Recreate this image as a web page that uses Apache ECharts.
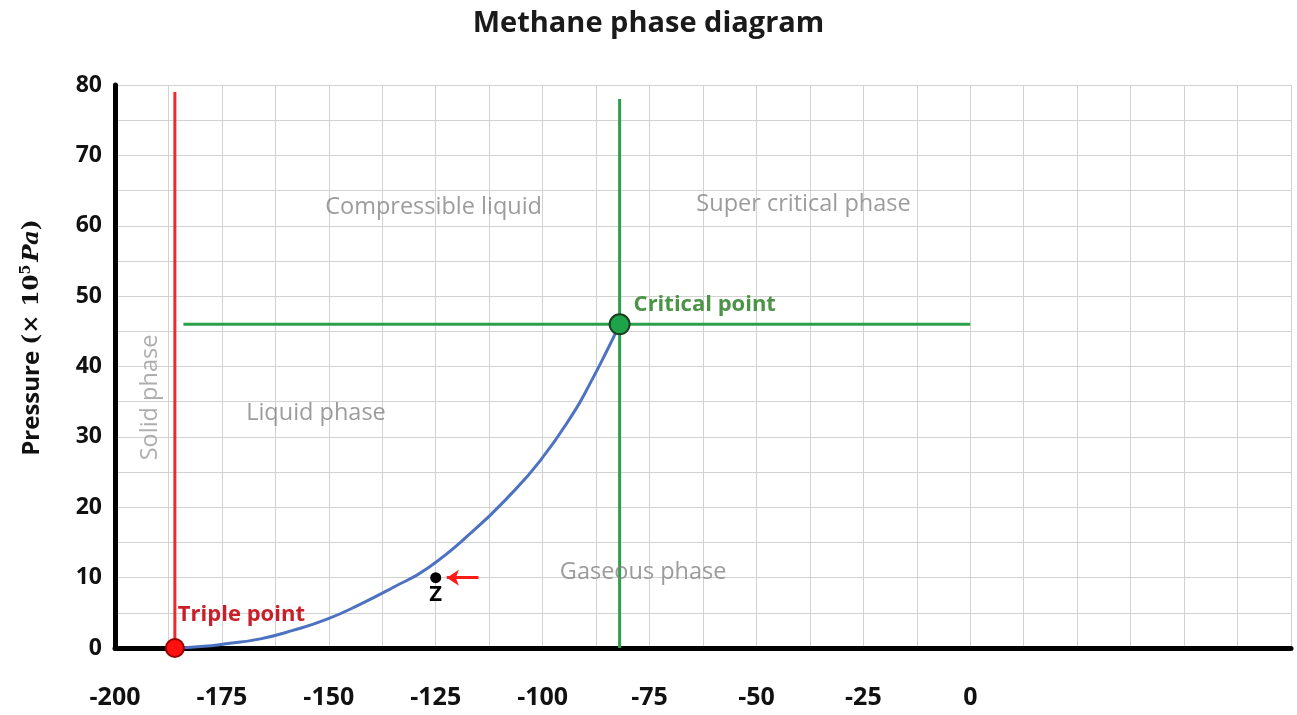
<!DOCTYPE html>
<html>
<head>
<meta charset="utf-8">
<script src="https://cdn.jsdelivr.net/npm/echarts@6/dist/echarts.min.js"></script>
<style>
  html, body { margin: 0; padding: 0; background: #fff; }
  #main { width: 1297px; height: 715px; }
</style>
</head>
<body>
<div id="main"></div>
<script>
// temperature (°C) / pressure (x10^5 Pa)
var curveT = [-186, -180, -174, -166, -158.4, -150.4, -142.7, -135, -127, -116.3, -108.3, -100.6, -92.9, -88.9, -85, -82];
var curveP = [0, 0.2, 0.6, 1.3, 2.5, 4.1, 6.2, 8.6, 11.3, 16.6, 21.3, 26.6, 33.3, 37.6, 42.2, 46];

var triplePoint = [-186, 0];
var criticalPoint = [-82, 46];
var pointZ = [-125, 10];

var solidLineTop = 79;      // red line up to
var criticalLineTop = 78;   // green vertical up to
var criticalLineX = [-184, 0]; // green horizontal from / to

var arrowFrom = [-115, 10];
var arrowTo = [-122.4, 10];

var phaseNames = ['Compressible liquid', 'Super critical phase', 'Liquid phase', 'Gaseous phase'];
var phaseX = [-125.5, -39, -153, -76.5];
var phaseY = [62.6, 63, 33.3, 10.8];

var xTickLabels = [-200, -175, -150, -125, -100, -75, -50, -25, 0];
var yTickLabels = [0, 10, 20, 30, 40, 50, 60, 70, 80];

var myChart = echarts.init(document.getElementById('main'));

var font = '"Open Sans", "DejaVu Sans", sans-serif';

var option = {
    backgroundColor: '#fff',
    animation: false,
    title: {
        text: 'Methane phase diagram',
        left: 'center',
        top: 4,
        textStyle: { fontFamily: font, fontSize: 29, fontWeight: 'bold', color: '#1a1a1a' }
    },
    grid: { left: 115, top: 85, right: 6, bottom: 67 },
    xAxis: {
        type: 'value',
        min: -200,
        max: 75,
        interval: 12.5,
        axisLine: { show: true, onZero: false, lineStyle: { color: '#000', width: 5 } },
        axisTick: { show: false },
        splitLine: { show: true, lineStyle: { color: '#d2d2d2', width: 1 } },
        axisLabel: {
            margin: 37,
            hideOverlap: false,
            fontFamily: font, fontSize: 25, fontWeight: 'bold', color: '#111',
            formatter: function (v) {
                return xTickLabels.indexOf(v) >= 0 ? String(v) : '';
            }
        }
    },
    yAxis: {
        type: 'value',
        min: 0,
        max: 80,
        interval: 5,
        name: '{a|Pressure }{b|(× 10}{s|5}{i|Pa}{b|)}',
        nameLocation: 'middle',
        nameGap: 70,
        nameRotate: 90,
        nameTextStyle: {
            padding: [0, 0, 0, 58],
            rich: {
                a: { fontFamily: font, fontSize: 24, fontWeight: 'bold', color: '#111' },
                b: { fontFamily: '"DejaVu Serif", serif', fontSize: 23, fontWeight: 'bold', color: '#111' },
                s: { fontFamily: '"DejaVu Serif", serif', fontSize: 14, fontWeight: 'bold', color: '#111', padding: [0, 3, 12, 0] },
                i: { fontFamily: '"DejaVu Serif", serif', fontSize: 23, fontWeight: 'bold', fontStyle: 'italic', color: '#111' }
            }
        },
        axisLine: { show: true, onZero: false, lineStyle: { color: '#000', width: 5 } },
        axisTick: { show: false },
        splitLine: { show: true, lineStyle: { color: '#d2d2d2', width: 1 } },
        axisLabel: {
            margin: 13,
            fontFamily: font, fontSize: 23, fontWeight: 'bold', color: '#111',
            formatter: function (v) {
                return yTickLabels.indexOf(v) >= 0 ? String(v) : '';
            }
        }
    },
    series: [
        {
            name: 'solid line',
            type: 'line',
            symbol: 'none',
            data: [[triplePoint[0], 0], [triplePoint[0], solidLineTop]],
            lineStyle: { color: '#ee2b2b', width: 3 },
            z: 3
        },
        {
            name: 'critical vertical',
            type: 'line',
            symbol: 'none',
            data: [[criticalPoint[0], 0], [criticalPoint[0], criticalLineTop]],
            lineStyle: { color: '#2aa04a', width: 3 },
            z: 3
        },
        {
            name: 'critical horizontal',
            type: 'line',
            symbol: 'none',
            data: [[criticalLineX[0], criticalPoint[1]], [criticalLineX[1], criticalPoint[1]]],
            lineStyle: { color: '#2aa04a', width: 3 },
            z: 3
        },
        {
            name: 'vaporization curve',
            type: 'line',
            symbol: 'none',
            smooth: 0.5,
            data: curveT.map(function (t, i) { return [t, curveP[i]]; }),
            lineStyle: { color: '#4e72c2', width: 3 },
            z: 4
        },
        {
            name: 'arrow',
            type: 'line',
            symbol: 'none',
            data: [],
            markLine: {
                silent: true,
                symbol: ['none', 'arrow'],
                symbolSize: [12, 12],
                label: { show: false },
                lineStyle: { color: '#ff1a1a', width: 3, type: 'solid' },
                data: [[{ coord: arrowFrom }, { coord: arrowTo }]]
            },
            z: 5
        },
        {
            name: 'points',
            type: 'scatter',
            clip: false,
            z: 6,
            data: [
                {
                    value: triplePoint, symbolSize: 18,
                    itemStyle: { color: '#ff1010', borderColor: '#9a0000', borderWidth: 2, opacity: 1 },
                    label: {
                        show: true, formatter: 'Triple point', position: 'right',
                        offset: [-12, -33],
                        fontFamily: font, fontSize: 22, fontWeight: 'bold', color: '#c8202a'
                    }
                },
                {
                    value: criticalPoint, symbolSize: 20,
                    itemStyle: { color: '#1ea34a', borderColor: '#1b3f22', borderWidth: 2, opacity: 1 },
                    label: {
                        show: true, formatter: 'Critical point', position: 'right',
                        offset: [-2, -20],
                        fontFamily: font, fontSize: 22, fontWeight: 'bold', color: '#4b9447'
                    }
                },
                {
                    value: pointZ, symbolSize: 11,
                    itemStyle: { color: '#000', opacity: 1 },
                    label: {
                        show: true, formatter: 'Z', position: 'bottom', distance: 1,
                        fontFamily: font, fontSize: 22, fontWeight: 'bold', color: '#000'
                    }
                }
            ]
        },
        {
            name: 'phase labels',
            type: 'scatter',
            symbolSize: 0,
            clip: false,
            z: 5,
            data: phaseNames.map(function (n, i) { return { name: n, value: [phaseX[i], phaseY[i]] }; }),
            label: {
                show: true, position: 'inside', formatter: '{b}',
                fontFamily: font, fontSize: 23.5, color: '#838383'
            }
        },
        {
            name: 'solid phase label',
            type: 'scatter',
            symbolSize: 0,
            clip: false,
            z: 5,
            data: [{ name: 'Solid phase', value: [-191.8, 35.6] }],
            label: {
                show: true, position: 'inside', formatter: '{b}', rotate: 90,
                fontFamily: font, fontSize: 23.5, color: '#9a9a9a'
            }
        }
    ]
};

myChart.setOption(option);
</script>
</body>
</html>
